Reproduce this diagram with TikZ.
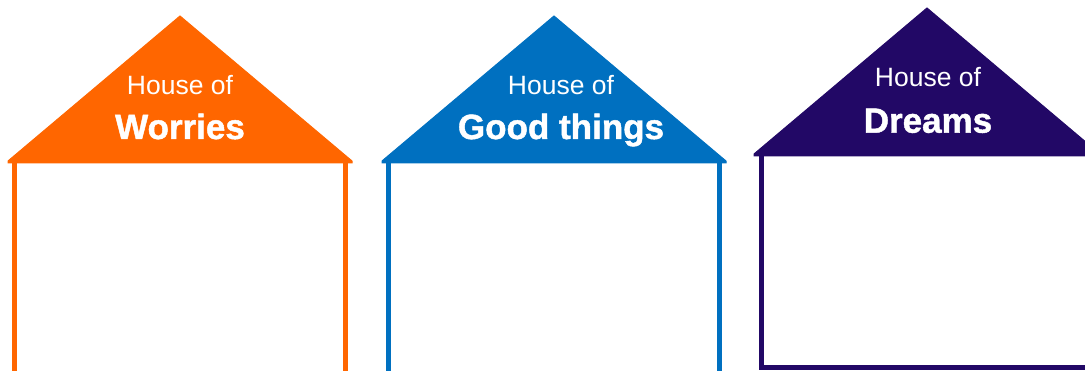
\documentclass[tikz,border=0pt]{standalone}
\usepackage{fontspec}
\setmainfont{Liberation Sans}
\newfontfamily\heavyfont[BoldFeatures={FakeBold=1.3}]{Liberation Sans}
\definecolor{hOrange}{RGB}{255,102,0}
\definecolor{hBlue}{RGB}{0,112,192}
\definecolor{hPurple}{RGB}{34,8,102}
\tikzset{
  roof/.style={fill=#1, draw=#1, line width=1pt, line join=miter},
  walls/.style={draw=#1, line width=5pt},
  small/.style={text=white, inner sep=0pt, anchor=base, font=\fontsize{26.5}{30}\selectfont},
  big/.style={text=white, inner sep=0pt, anchor=base, font=\heavyfont\fontsize{35}{40}\selectfont\bfseries},
}
\begin{document}
\begin{tikzpicture}[x=1pt,y=-1pt]
\useasboundingbox (0,0) rectangle (1085,371);
\clip (0,0) rectangle (1085,371);
% House 1
\draw[walls=hOrange] (14.5,160) rectangle (345.5,390);
\draw[roof=hOrange] (8,161) -- (180,16) -- (352,161) -- (352,163) -- (8,163) -- cycle;
\node[small] (h1a) at (180,95) {House of};
\node[big] (h1b) at (180,139) {Worries};
% House 2
\draw[walls=hBlue] (388.5,160) rectangle (719.5,390);
\draw[roof=hBlue] (382,161) -- (554,16) -- (726,161) -- (726,163) -- (382,163) -- cycle;
\node[small] (h2a) at (561,95) {House of};
\node[big] (h2b) at (561,139) {Good things};
% House 3
\draw[walls=hPurple] (761.5,154) rectangle (1095,367.5);
\draw[roof=hPurple] (754,154) -- (927,8) -- (1100,154) -- (1100,156) -- (754,156) -- cycle;
\node[small] (h3a) at (928,86.7) {House of};
\node[big] (h3b) at (928,132.7) {Dreams};
\end{tikzpicture}
\end{document}
